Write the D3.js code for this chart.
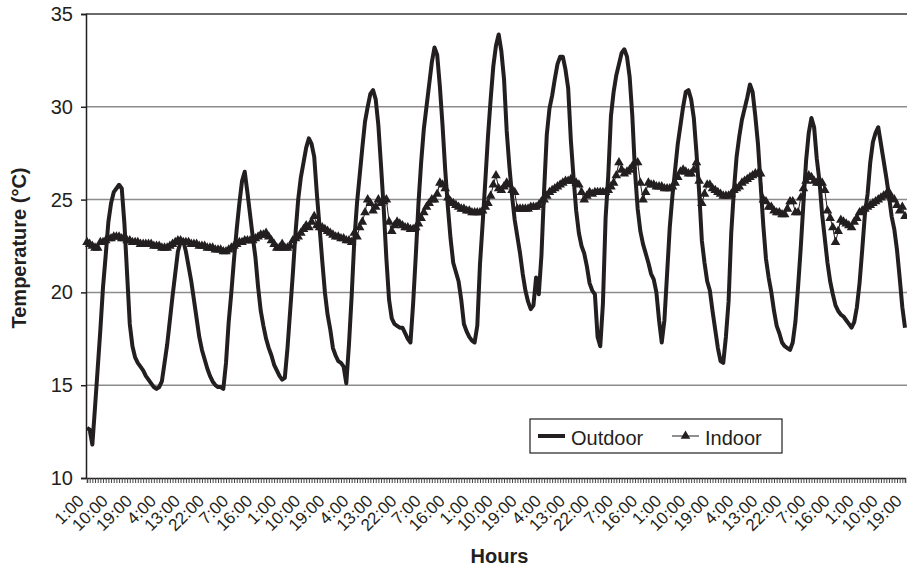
<!DOCTYPE html>
<html>
<head>
<meta charset="utf-8">
<script src="https://cdn.jsdelivr.net/npm/d3@7"></script>
<style>
  body { margin: 0; background: #fff; }
  svg { display: block; font-family: Arial, "Liberation Sans", sans-serif; }
</style>
</head>
<body>
<svg id="chart" width="907" height="570"></svg>
<script>
// hourly readings, day by day (first day starts 1:00)
var outdoor = [].concat(
    [12.7, 12.6, 11.8, 13.8, 15.9, 18.0, 20.3, 22.0, 23.8, 24.8, 25.4, 25.6, 25.8, 25.6, 23.7, 21.0, 18.3, 17.1, 16.5, 16.2, 16.0, 15.8, 15.5, 15.3],
    [15.1, 14.9, 14.8, 14.9, 15.2, 16.2, 17.2, 18.5, 19.8, 21.0, 22.2, 22.7, 22.8, 22.2, 21.4, 20.6, 19.6, 18.6, 17.6, 16.9, 16.4, 15.9, 15.5, 15.2],
    [15.0, 14.9, 14.9, 14.8, 16.2, 18.4, 20.0, 21.8, 23.4, 24.8, 26.0, 26.5, 25.4, 24.2, 23.0, 21.9, 20.3, 19.0, 18.2, 17.5, 17.0, 16.6, 16.1, 15.8],
    [15.5, 15.3, 15.4, 17.0, 19.0, 21.0, 23.2, 25.0, 26.2, 27.0, 27.8, 28.3, 28.0, 27.3, 25.3, 23.5, 21.7, 20.0, 18.8, 18.0, 17.0, 16.6, 16.3, 16.2],
    [16.0, 15.1, 17.2, 19.8, 22.8, 24.8, 26.3, 27.8, 29.2, 30.0, 30.7, 30.9, 30.4, 29.0, 26.8, 24.5, 21.8, 19.6, 18.6, 18.3, 18.2, 18.1, 18.1, 17.8],
    [17.5, 17.3, 19.4, 22.0, 24.8, 27.0, 28.8, 30.0, 31.2, 32.4, 33.2, 32.8, 31.1, 29.0, 26.6, 24.6, 22.9, 21.6, 21.1, 20.6, 19.6, 18.3, 17.9, 17.6],
    [17.4, 17.3, 18.2, 21.5, 23.7, 26.0, 28.4, 30.4, 32.2, 33.3, 33.9, 33.0, 31.5, 28.7, 26.8, 25.2, 23.9, 23.0, 22.1, 21.0, 20.1, 19.5, 19.1, 19.3],
    [20.8, 19.9, 22.0, 25.5, 28.5, 29.9, 30.6, 31.5, 32.3, 32.7, 32.7, 32.0, 31.0, 28.2, 26.2, 24.4, 23.2, 22.5, 22.1, 21.4, 20.5, 20.1, 19.9, 17.6],
    [17.1, 19.4, 24.0, 26.3, 29.5, 30.8, 31.7, 32.3, 32.9, 33.1, 32.7, 31.6, 29.5, 26.5, 24.5, 23.3, 22.6, 22.1, 21.6, 21.0, 20.7, 20.0, 18.5, 17.3],
    [18.5, 21.0, 23.5, 25.2, 26.6, 28.0, 29.0, 30.0, 30.8, 30.9, 30.4, 29.4, 27.5, 25.4, 22.8, 21.6, 20.6, 20.1, 19.0, 18.0, 17.0, 16.3, 16.2, 17.6],
    [19.5, 23.2, 25.5, 27.3, 28.4, 29.3, 29.9, 30.5, 31.2, 30.8, 29.5, 28.0, 25.8, 23.6, 21.8, 20.8, 20.0, 19.0, 18.2, 17.8, 17.3, 17.1, 17.0, 16.9],
    [17.3, 18.4, 20.3, 22.4, 24.8, 27.1, 28.6, 29.4, 28.9, 27.2, 26.0, 24.2, 22.9, 21.6, 20.6, 19.9, 19.3, 19.0, 18.8, 18.7, 18.5, 18.3, 18.1, 18.4],
    [19.2, 20.5, 22.3, 24.2, 25.3, 27.0, 28.1, 28.6, 28.9, 28.0, 27.1, 26.2, 25.2, 24.1, 23.4, 22.3, 20.8, 19.2, 18.1]
);

var indoor = [].concat(
    [22.7, 22.6, 22.5, 22.4, 22.4, 22.7, 22.7, 22.8, 22.9, 22.9, 23.0, 23.0, 23.0, 22.9, 22.9, 22.8, 22.8, 22.7, 22.7, 22.7, 22.6, 22.6, 22.6, 22.6],
    [22.6, 22.5, 22.5, 22.5, 22.4, 22.4, 22.4, 22.5, 22.6, 22.7, 22.8, 22.8, 22.7, 22.7, 22.7, 22.6, 22.6, 22.6, 22.5, 22.5, 22.5, 22.4, 22.4, 22.4],
    [22.3, 22.3, 22.3, 22.2, 22.2, 22.3, 22.4, 22.5, 22.6, 22.7, 22.7, 22.8, 22.8, 22.8, 22.8, 22.9, 23.0, 23.1, 23.1, 23.2, 23.0, 22.8, 22.6, 22.4],
    [22.4, 22.6, 22.4, 22.4, 22.5, 22.8, 22.9, 23.0, 23.2, 23.4, 23.6, 23.5, 23.8, 24.1, 23.6, 23.5, 23.5, 23.4, 23.3, 23.2, 23.1, 23.0, 23.0, 22.9],
    [22.9, 22.8, 22.8, 22.7, 23.2, 23.0, 23.5, 23.8, 24.3, 25.0, 24.8, 24.4, 24.6, 25.0, 24.8, 24.9, 25.0, 23.8, 23.3, 23.6, 23.8, 23.7, 23.6, 23.5],
    [23.5, 23.4, 23.4, 23.5, 23.7, 24.0, 24.3, 24.6, 24.8, 25.0, 25.0, 25.3, 25.9, 25.8, 25.6, 25.1, 24.9, 24.8, 24.7, 24.6, 24.5, 24.5, 24.4, 24.4],
    [24.3, 24.3, 24.3, 24.3, 24.4, 24.6, 24.8, 25.2, 25.8, 26.3, 25.6, 25.5, 25.7, 25.9, 25.8, 25.5, 25.4, 24.5, 24.5, 24.5, 24.5, 24.5, 24.6, 24.6],
    [24.6, 24.7, 24.9, 25.0, 25.2, 25.4, 25.5, 25.6, 25.7, 25.8, 25.9, 26.0, 26.0, 26.1, 26.0, 25.9, 25.8, 25.4, 25.0, 25.2, 25.4, 25.3, 25.4, 25.4],
    [25.4, 25.4, 25.4, 25.5, 25.7, 25.9, 26.3, 27.0, 26.6, 26.4, 26.5, 26.6, 26.8, 27.0, 27.0, 25.9, 25.0, 25.4, 25.9, 25.8, 25.8, 25.7, 25.7, 25.7],
    [25.6, 25.6, 25.6, 25.7, 25.9, 26.2, 26.5, 26.6, 26.5, 26.4, 26.4, 26.6, 27.0, 26.0, 24.8, 25.3, 25.8, 25.8, 25.6, 25.5, 25.4, 25.3, 25.2, 25.2],
    [25.2, 25.3, 25.5, 25.6, 25.7, 25.9, 26.0, 26.1, 26.2, 26.3, 26.4, 26.4, 26.4, 25.0, 24.9, 24.6, 24.6, 24.4, 24.3, 24.3, 24.2, 24.2, 24.5, 24.9],
    [24.9, 24.3, 24.3, 25.1, 25.6, 26.0, 26.3, 26.2, 26.0, 25.9, 25.9, 25.9, 25.5, 24.4, 24.0, 23.5, 22.7, 23.3, 23.9, 23.8, 23.7, 23.6, 23.5, 23.8],
    [24.0, 24.3, 24.4, 24.5, 24.6, 24.7, 24.8, 24.9, 25.0, 25.1, 25.2, 25.3, 25.4, 25.1, 25.0, 24.7, 24.4, 24.6, 24.1]
);

// one label every 9 hours
var tickLabels = ['1:00', '10:00', '19:00', '4:00', '13:00', '22:00', '7:00', '16:00',
    '1:00', '10:00', '19:00', '4:00', '13:00', '22:00', '7:00', '16:00',
    '1:00', '10:00', '19:00', '4:00', '13:00', '22:00', '7:00', '16:00',
    '1:00', '10:00', '19:00', '4:00', '13:00', '22:00', '7:00', '16:00',
    '1:00', '10:00', '19:00'];
var labelStep = 9;

var yTicks = [10, 15, 20, 25, 30, 35];

var margin = {top: 14, right: 1, bottom: 92, left: 86};
var width = 907, height = 570;
var ink = '#231f20';

var svg = d3.select('#chart');

var categories = d3.range(outdoor.length);

var x = d3.scalePoint()
    .domain(categories)
    .range([margin.left + 1, width - margin.right - 1]);

var y = d3.scaleLinear()
    .domain([10, 35])
    .range([height - margin.bottom, margin.top]);

// gridlines
svg.append('g')
    .selectAll('line')
    .data(yTicks.filter(function (d) { return d > 10 && d < 35; }))
    .enter().append('line')
    .attr('x1', margin.left)
    .attr('x2', width)
    .attr('y1', function (d) { return y(d); })
    .attr('y2', function (d) { return y(d); })
    .attr('stroke', '#8c8c8c')
    .attr('stroke-width', 1.5);

// top border
svg.append('line')
    .attr('x1', margin.left).attr('x2', width)
    .attr('y1', y(35)).attr('y2', y(35))
    .attr('stroke', '#3a3a3a').attr('stroke-width', 1.5);

// y axis
var yAxis = d3.axisLeft(y)
    .tickValues(yTicks)
    .tickSize(5)
    .tickPadding(8);

var gy = svg.append('g')
    .attr('transform', 'translate(' + margin.left + ',0)')
    .call(yAxis);
gy.select('.domain').attr('stroke', ink).attr('stroke-width', 1.5);
gy.selectAll('.tick line').attr('stroke', ink).attr('stroke-width', 1.5);
gy.selectAll('.tick text')
    .attr('fill', ink)
    .style('font-size', '20px');

// x axis with hourly tick marks
var xAxis = d3.axisBottom(x)
    .tickValues(categories)
    .tickSize(5)
    .tickFormat('');

var gx = svg.append('g')
    .attr('transform', 'translate(0,' + y(10) + ')')
    .call(xAxis);
gx.select('.domain').attr('stroke', ink).attr('stroke-width', 1.5);
gx.selectAll('.tick line').attr('stroke', '#444').attr('stroke-width', 1);

svg.append('g')
    .selectAll('text')
    .data(tickLabels)
    .enter().append('text')
    .attr('transform', function (d, i) {
        return 'translate(' + (x(i * labelStep) - 2) + ',' + (y(10) + 24) + ') rotate(-45)';
    })
    .attr('text-anchor', 'end')
    .attr('fill', ink)
    .style('font-size', '17px')
    .text(function (d) { return d; });

// axis titles
svg.append('text')
    .attr('x', (margin.left + width) / 2 + 3)
    .attr('y', 563)
    .attr('text-anchor', 'middle')
    .attr('fill', ink)
    .style('font-size', '20px')
    .style('font-weight', 'bold')
    .text('Hours');

svg.append('text')
    .attr('transform', 'translate(26,' + 248 + ') rotate(-90)')
    .attr('text-anchor', 'middle')
    .attr('fill', ink)
    .style('font-size', '20px')
    .style('font-weight', 'bold')
    .text('Temperature (°C)');

// series
var line = d3.line()
    .x(function (d, i) { return x(i); })
    .y(function (d) { return y(d); });

svg.append('path')
    .datum(outdoor)
    .attr('fill', 'none')
    .attr('stroke', ink)
    .attr('stroke-width', 4)
    .attr('stroke-linejoin', 'round')
    .attr('d', line);

svg.append('path')
    .datum(indoor)
    .attr('fill', 'none')
    .attr('stroke', ink)
    .attr('stroke-width', 1)
    .attr('d', line);

var tri = d3.symbol().type(d3.symbolTriangle).size(40);

svg.append('g')
    .selectAll('path')
    .data(indoor)
    .enter().append('path')
    .attr('transform', function (d, i) {
        return 'translate(' + x(i) + ',' + y(d) + ')';
    })
    .attr('d', tri)
    .attr('fill', ink);

// legend
var legend = svg.append('g').attr('transform', 'translate(530,419)');

legend.append('rect')
    .attr('width', 252)
    .attr('height', 34)
    .attr('fill', '#fff')
    .attr('stroke', ink)
    .attr('stroke-width', 1.2);

legend.append('line')
    .attr('x1', 8).attr('x2', 35)
    .attr('y1', 17).attr('y2', 17)
    .attr('stroke', ink).attr('stroke-width', 4);

legend.append('text')
    .attr('x', 41).attr('y', 26)
    .attr('fill', ink)
    .style('font-size', '20px')
    .text('Outdoor');

legend.append('line')
    .attr('x1', 142).attr('x2', 169)
    .attr('y1', 17).attr('y2', 17)
    .attr('stroke', ink).attr('stroke-width', 1);

legend.append('path')
    .attr('transform', 'translate(155.5,17)')
    .attr('d', tri)
    .attr('fill', ink);

legend.append('text')
    .attr('x', 175).attr('y', 26)
    .attr('fill', ink)
    .style('font-size', '20px')
    .text('Indoor');
</script>
</body>
</html>
